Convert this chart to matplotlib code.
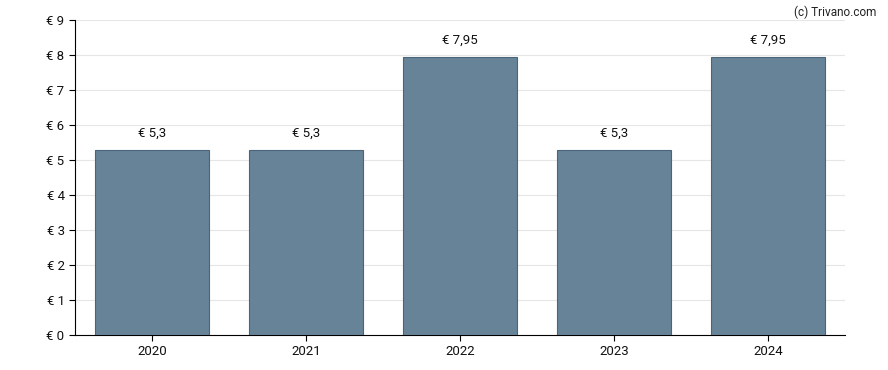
import matplotlib
matplotlib.use("Agg")
import matplotlib.pyplot as plt

plt.rcParams['font.family'] = ['Roboto', 'DejaVu Sans']

years = ["2020", "2021", "2022", "2023", "2024"]
values = [5.3, 5.3, 7.95, 5.3, 7.95]
labels = ["€ 5,3", "€ 5,3", "€ 7,95", "€ 5,3", "€ 7,95"]
yticks = list(range(0, 10))

fig = plt.figure(figsize=(8.88, 3.7), dpi=100)
ax = fig.add_axes([75/888, 35/370, 770/888, 315/370])

x = range(len(years))
ax.bar(x, values, width=0.74, color="#668397", edgecolor="#4a6479", linewidth=0.8, zorder=3)
for i, v in enumerate(values):
    ax.annotate(labels[i], (i, v), xytext=(0, 7), textcoords="offset points",
                ha="center", va="bottom", fontsize=9.5, color="#111111")

ax.set_xlim(-0.5, len(years) - 0.5)
ax.set_ylim(0, 9)
ax.set_xticks(list(x))
ax.set_xticklabels(years)
ax.set_yticks(yticks)
ax.set_yticklabels(["€ %d" % t for t in yticks])
ax.tick_params(labelsize=9.5, length=4, color="black", labelcolor="#111111")
ax.grid(axis="y", color="#e6e6e6", linewidth=0.8, zorder=0)
for s in ["top", "right"]:
    ax.spines[s].set_visible(False)
ax.spines["left"].set_color("black")
ax.spines["bottom"].set_color("black")

fig.text(0.987, 0.985, "(c) Trivano.com", ha="right", va="top", fontsize=8.5, color="#222222")

fig.savefig("out.png", dpi=100)
